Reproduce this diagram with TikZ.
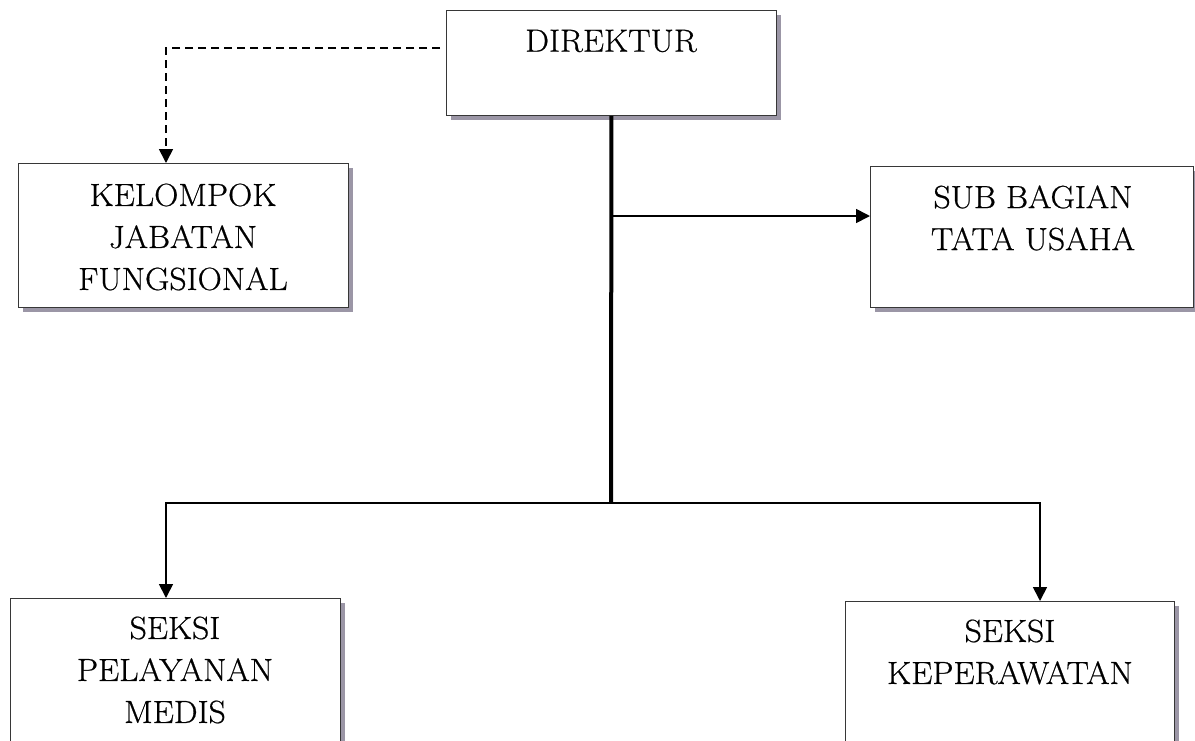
\documentclass[tikz,border=0pt]{standalone}
\usepackage{fontspec}
\setmainfont{Latin Modern Roman}[FakeStretch=1.05, FakeBold=0.6]
\usetikzlibrary{arrows.meta}
\definecolor{shadowc}{RGB}{155,150,166}
\definecolor{boxline}{RGB}{55,55,55}
\begin{document}
\begin{tikzpicture}[x=1pt,y=-1pt,
  box/.style={draw=boxline, line width=0.9pt, fill=white, anchor=north west, inner sep=0pt,
    preaction={fill=shadowc, transform canvas={shift={(5pt,-5pt)}}}},
  lbl/.style={font=\fontsize{32}{42}\selectfont, align=center, inner sep=0pt},
  conn/.style={line width=1.7pt},
  trunk/.style={line width=4pt},
  tip/.style={-{Triangle[length=14pt,width=14pt]}},
  dashline/.style={line width=1.7pt, dash pattern=on 8pt off 5pt}
]
\useasboundingbox (0,0) rectangle (1195,740);
\clip (0,0) rectangle (1195,740);

% boxes
\node[box, minimum width=330pt, minimum height=105pt] (dir) at (446,10) {};
\node[box, minimum width=330pt, minimum height=144pt] (kjf) at (18,163) {};
\node[box, minimum width=323pt, minimum height=141pt] (sbtu) at (870,166) {};
\node[box, minimum width=330pt, minimum height=170pt] (spm) at (10,598) {};
\node[box, minimum width=329pt, minimum height=170pt] (skep) at (845,601) {};

% texts
\node[lbl] (tdir) at (611,41) {DIREKTUR};
\node[lbl] (tkjf) at (183,237) {KELOMPOK\\JABATAN\\FUNGSIONAL};
\node[lbl] (tsbtu) at (1033,218) {SUB BAGIAN\\TATA USAHA};
\node[lbl] (tspm) at (175,670) {SEKSI\\PELAYANAN\\MEDIS};
\node[lbl] (tskep) at (1010,652) {SEKSI\\KEPERAWATAN};

% connectors
\coordinate (dstart) at (440,48);
\draw[dashline, tip] (dstart) -| ([xshift=148pt]kjf.north west);

\coordinate (junc) at (611,503);
\coordinate (brsub) at (611,216);
\draw[trunk] (dir.south) -- ([yshift=1pt]junc);
\draw[conn, tip] (brsub) -- (brsub -| sbtu.west);
\draw[conn, tip] (junc) -| ([xshift=156pt]spm.north west);
\draw[conn, tip] (junc) -| ([xshift=195pt]skep.north west);
\end{tikzpicture}
\end{document}
